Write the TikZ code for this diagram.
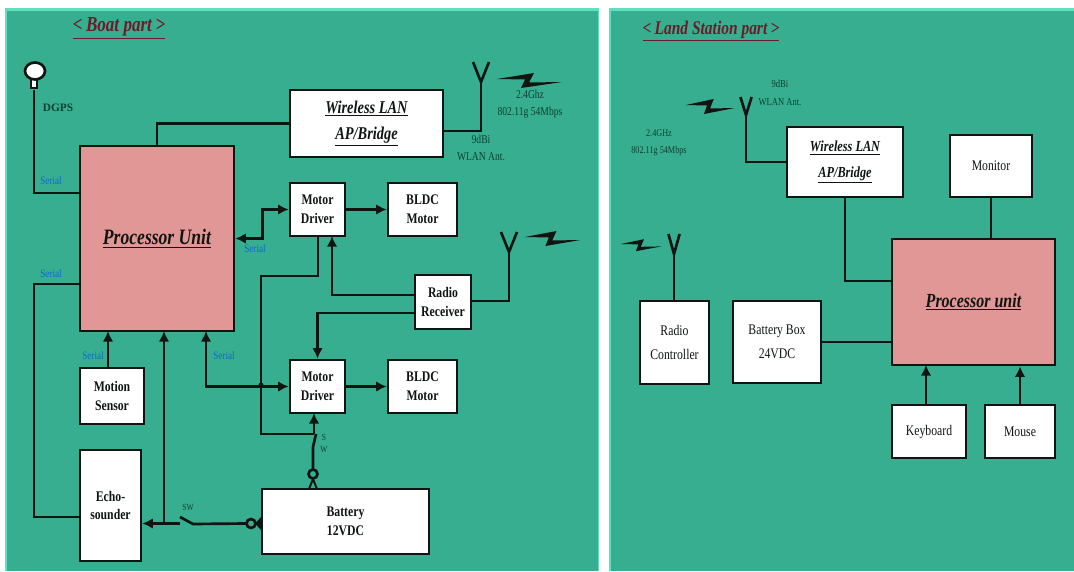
\documentclass[tikz,border=0pt]{standalone}
\usepackage{fontspec}
\setmainfont{Liberation Serif}
\newfontfamily\cond[FakeStretch=0.8]{Liberation Serif}
\usetikzlibrary{arrows.meta}
\definecolor{panel}{HTML}{37AE90}
\definecolor{edge}{HTML}{5FDFC0}
\definecolor{proc}{HTML}{E19795}
\definecolor{ser}{HTML}{0F68C8}
\definecolor{ttl}{HTML}{6E1A28}
\definecolor{ink}{HTML}{101512}
\definecolor{lab}{HTML}{0C4034}
\tikzset{
 x=0.75pt,y=-0.75pt,
 conn/.style={draw=ink,line width=2pt},
 arr/.style={conn,-{Latex[length=8pt,width=8pt]}},
 darr/.style={conn,{Latex[length=8pt,width=8pt]}-{Latex[length=8pt,width=8pt]}},
 bx/.style={draw=ink,line width=1.9pt,fill=white,inner sep=0pt,align=center,text=ink,font=\cond\fontsize{11}{14}\selectfont\bfseries},
 plainbx/.style={bx,font=\cond\fontsize{11}{18}\selectfont},
 wbx/.style={bx,font=\cond\fontsize{13.5}{20}\selectfont\bfseries\itshape},
 pbx/.style={bx,fill=proc,font=\cond\fontsize{16.5}{20}\selectfont\bfseries\itshape},
 serial/.style={text=ser,inner sep=0pt,font=\cond\fontsize{8.5}{9}\selectfont},
 smalllab/.style={text=lab,inner sep=0pt,align=center,font=\cond\fontsize{9}{12.5}\selectfont},
 title/.style={text=ttl,inner sep=0pt,font=\cond\fontsize{16}{18}\selectfont\bfseries\itshape},
 bolt/.pic={\fill[ink] (0,0) -- (37,-6) -- (32,3.5) -- (65,3) -- (24,9) -- (28,0.5) -- cycle;},
 ant/.pic={\draw[conn,line join=miter] (-8,-20) -- (0,0) -- (8,-20);},
}
\begin{document}
\begin{tikzpicture}
\useasboundingbox (0,0) rectangle (1074,571);
\fill[white] (0,0) rectangle (1074,571);
\fill[edge] (5,8) rectangle (599,571);
\fill[panel] (7,11) rectangle (598,571);
\fill[edge] (609,8) rectangle (1074,571);
\fill[panel] (611,11) rectangle (1074,571);

% ---- Boat part
\node[title] (t1) at (119,28) {\underline{<\,Boat part\,>}};
\node[pbx,minimum width=115.5pt,minimum height=138.75pt] (proc1) at (157,238.5) {\underline{Processor Unit}};
\node[wbx,minimum width=114.75pt,minimum height=50.25pt] (wl1) at (366.5,123.5) {\underline{Wireless LAN}\\\underline{AP/Bridge}};
\node[bx,minimum width=41.25pt,minimum height=39.75pt] (md1) at (317.5,209.5) {Motor\\Driver};
\node[bx,minimum width=51.75pt,minimum height=39.75pt] (bl1) at (422.5,209.5) {BLDC\\Motor};
\node[bx,minimum width=42pt,minimum height=40.5pt] (rx) at (443,302) {Radio\\Receiver};
\node[bx,minimum width=41.25pt,minimum height=39.75pt] (md2) at (317.5,386.5) {Motor\\Driver};
\node[bx,minimum width=51.75pt,minimum height=39.75pt] (bl2) at (422.5,386.5) {BLDC\\Motor};
\node[bx,minimum width=48pt,minimum height=42pt] (ms) at (112,396) {Motion\\Sensor};
\node[bx,minimum width=45.75pt,minimum height=83.25pt] (echo) at (110.5,505.5) {Echo-\\sounder};
\node[bx,minimum width=125.25pt,minimum height=48.75pt] (bat) at (345.5,521.5) {Battery\\12VDC};

\coordinate (gps) at (34,90);
\draw[conn] (gps) |- (proc1.west |- 0,193);
\draw[conn,fill=white,line width=1.5pt] (31,77) rectangle (37,88);
\draw[conn,fill=white] (35,71) ellipse (10 and 8.5);
\node[inner sep=0pt,text=lab,font=\fontsize{8.5}{10}\selectfont\bfseries] (dgps) at (58,108) {DGPS};

\draw[conn] (wl1.west) -| (proc1.north);
\coordinate (a1) at (481,82);
\draw[conn] (wl1.east |- 0,131) -| (a1);
\pic at (a1) {ant};
\pic at (497,79) {bolt};
\node[smalllab] (l1) at (530,104) {2.4Ghz\\802.11g 54Mbps};
\node[smalllab] (l3) at (481,148) {9dBi\\WLAN Ant.};

\draw[conn] (proc1.west |- 0,284) -| (34,517) -- (echo.west |- 0,517);
\draw[darr] (proc1.east) -- ++(27,0) |- (md1.west);
\draw[arr] (md1.east) -- (bl1.west);
\draw[arr] (md2.east) -- (bl2.west);
\draw[arr] (rx.west |- 0,295) -| (332,236);
\draw[arr] (rx.west |- 0,313) -| (md2.north);
\coordinate (a2) at (509,252);
\draw[conn] (rx.east |- 0,301) -| (a2);
\pic at (a2) {ant};
\pic[xscale=0.85] at (525,237) {bolt};

\coordinate (sw2) at (314,434);
\draw[conn] (sw2) -- (261,434) -- (261,276) -| (318,236);
\draw[darr] (206,331) -- (206,386.5) -- (md2.west);
\fill[ink] (261,385) circle (2.5);
\draw[arr] (ms.north -| 108,0) -- (108,331);
\draw[arr] (164,523.5) -- (164,331);
\draw[arr] (180,523.5) -- (echo.east |- 0,523.5);
\draw[conn] (180,517) -- (193,524) -- (246,523.5);
\node[serial,text=lab,font=\cond\fontsize{7}{8}\selectfont] (swl) at (188,507) {SW};
\draw[conn,fill=panel] (251,523.5) circle (4.5);
\fill[ink] (262,516) -- (255,523.5) -- (262,531) -- cycle;

\draw[arr] (314,434) -- (314,413);
\draw[conn] (316,434) -- (313,447) -- (313,470);
\node[serial,text=lab,align=center,font=\cond\fontsize{7}{8}\selectfont] (swl2) at (324,443) {S\\[1pt]W};
\draw[conn,fill=panel] (313,474) circle (4.5);
\draw[conn,line width=1.5pt] (313,479) -- (309,489) (313,479) -- (317,489);

\node[serial] (s1) at (51,181) {Serial};
\node[serial] (s2) at (51,274) {Serial};
\node[serial] (s3) at (255,249) {Serial};
\node[serial] (s4) at (93,356) {Serial};
\node[serial] (s5) at (224,356) {Serial};

% ---- Land Station part
\node[title,font=\cond\fontsize{14.5}{18}\selectfont\bfseries\itshape] (t2) at (711,31) {\underline{<\,Land Station part\,>}};
\node[wbx,minimum width=87pt,minimum height=52.5pt,font=\cond\fontsize{11.5}{19}\selectfont\bfseries\itshape] (wl2) at (845,162) {\underline{Wireless LAN}\\\underline{AP/Bridge}};
\node[plainbx,minimum width=61.5pt,minimum height=46.5pt] (mon) at (991,166) {Monitor};
\node[pbx,minimum width=122.25pt,minimum height=94.5pt,font=\cond\fontsize{15}{18}\selectfont\bfseries\itshape] (proc2) at (973.5,302) {\underline{Processor unit}};
\node[plainbx,minimum width=66pt,minimum height=61.5pt] (bb) at (777,342) {Battery Box\\24VDC};
\node[plainbx,minimum width=51.75pt,minimum height=62.25pt] (rc) at (674.5,342.5) {Radio\\Controller};
\node[plainbx,minimum width=55.5pt,minimum height=39.75pt] (kb) at (929,431.5) {Keyboard};
\node[plainbx,minimum width=52.5pt,minimum height=39.75pt] (mo) at (1020,431.5) {Mouse};

\coordinate (a3) at (746,115);
\draw[conn] (wl2.west) -| (a3);
\pic[xscale=0.7,yscale=0.9] at (a3) {ant};
\pic[xscale=0.75] at (686,105) {bolt};
\node[smalllab,font=\cond\fontsize{8}{13}\selectfont] (l4) at (780,93) {9dBi\\WLAN Ant.};
\node[smalllab,font=\cond\fontsize{7.7}{13}\selectfont] (l5) at (659,143) {2.4GHz\\802.11g 54Mbps};
\draw[conn] (wl2.south) |- (proc2.west |- 0,281);
\draw[conn] (mon.south) -- (mon.south |- proc2.north);
\draw[conn] (bb.east) -- (proc2.west |- bb.east);
\draw[arr] (926,405) -- (926,365);
\draw[arr] (mo.north) -- (mo.north |- proc2.south);
\coordinate (a4) at (674,254);
\draw[conn] (rc.north -| a4) -- (a4);
\pic[xscale=0.7] at (a4) {ant};
\pic[xscale=0.62,yscale=0.8] at (621,244) {bolt};
\end{tikzpicture}
\end{document}
